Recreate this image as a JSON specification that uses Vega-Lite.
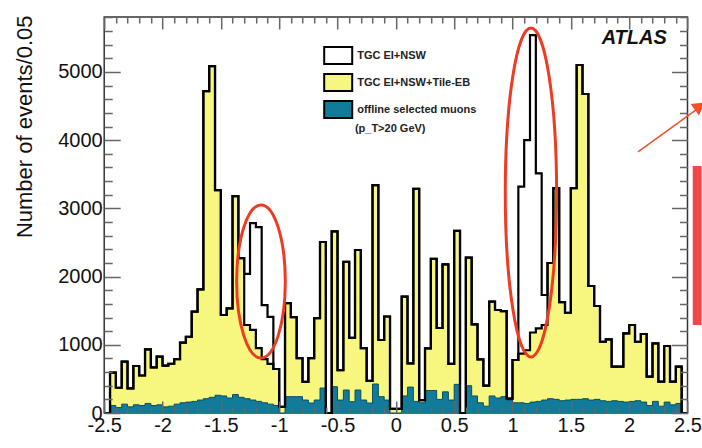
{
  "$schema": "https://vega.github.io/schema/vega-lite/v6.json",
  "width": 583.3,
  "height": 396,
  "autosize": {"type": "none"},
  "padding": {"left": 104.2, "top": 17, "right": 14.5, "bottom": 35},
  "background": "white",
  "config": {
    "view": {"stroke": "#333333", "strokeWidth": 1.5},
    "font": "Liberation Sans"
  },
  "datasets": {
    "hist": [
      {"x": -2.5, "a": 0, "b": 0, "c": 0},
      {"x": -2.45, "a": 591, "b": 591, "c": 110},
      {"x": -2.4, "a": 370, "b": 370, "c": 80},
      {"x": -2.35, "a": 752, "b": 752, "c": 130},
      {"x": -2.3, "a": 362, "b": 362, "c": 90},
      {"x": -2.25, "a": 689, "b": 689, "c": 120},
      {"x": -2.2, "a": 550, "b": 550, "c": 110},
      {"x": -2.15, "a": 933, "b": 933, "c": 140},
      {"x": -2.1, "a": 669, "b": 669, "c": 110},
      {"x": -2.05, "a": 826, "b": 826, "c": 120},
      {"x": -2.0, "a": 694, "b": 694, "c": 90},
      {"x": -1.95, "a": 722, "b": 722, "c": 100},
      {"x": -1.9, "a": 790, "b": 790, "c": 130},
      {"x": -1.85, "a": 1031, "b": 1031, "c": 150},
      {"x": -1.8, "a": 1115, "b": 1115, "c": 160},
      {"x": -1.75, "a": 1485, "b": 1485, "c": 170},
      {"x": -1.7, "a": 1813, "b": 1813, "c": 190},
      {"x": -1.65, "a": 4720, "b": 4720, "c": 210},
      {"x": -1.6, "a": 5087, "b": 5087, "c": 230},
      {"x": -1.55, "a": 3269, "b": 3269, "c": 260},
      {"x": -1.5, "a": 1437, "b": 1437, "c": 250},
      {"x": -1.45, "a": 1534, "b": 1534, "c": 220},
      {"x": -1.4, "a": 3181, "b": 3181, "c": 270},
      {"x": -1.35, "a": 2272, "b": 2272, "c": 230},
      {"x": -1.3, "a": 2040, "b": 1290, "c": 210},
      {"x": -1.25, "a": 2785, "b": 1220, "c": 190},
      {"x": -1.2, "a": 2725, "b": 950, "c": 170},
      {"x": -1.15, "a": 1583, "b": 790, "c": 150},
      {"x": -1.1, "a": 1410, "b": 720, "c": 130},
      {"x": -1.05, "a": 645, "b": 645, "c": 110},
      {"x": -1.0, "a": 90, "b": 90, "c": 0},
      {"x": -0.95, "a": 1612, "b": 1612, "c": 240},
      {"x": -0.9, "a": 1407, "b": 1407, "c": 240},
      {"x": -0.85, "a": 806, "b": 806, "c": 240},
      {"x": -0.8, "a": 455, "b": 455, "c": 190},
      {"x": -0.75, "a": 806, "b": 806, "c": 146},
      {"x": -0.7, "a": 1392, "b": 1392, "c": 190},
      {"x": -0.65, "a": 2507, "b": 2507, "c": 366},
      {"x": -0.6, "a": 0, "b": 0, "c": 0},
      {"x": -0.55, "a": 2663, "b": 2663, "c": 386},
      {"x": -0.5, "a": 630, "b": 630, "c": 190},
      {"x": -0.45, "a": 2216, "b": 2216, "c": 337},
      {"x": -0.4, "a": 1100, "b": 1100, "c": 166},
      {"x": -0.35, "a": 2390, "b": 2390, "c": 337},
      {"x": -0.3, "a": 950, "b": 950, "c": 190},
      {"x": -0.25, "a": 470, "b": 470, "c": 146},
      {"x": -0.2, "a": 3342, "b": 3342, "c": 425},
      {"x": -0.15, "a": 1070, "b": 1070, "c": 240},
      {"x": -0.1, "a": 1415, "b": 1415, "c": 190},
      {"x": -0.05, "a": 60, "b": 60, "c": 0},
      {"x": 0.0, "a": 60, "b": 60, "c": 0},
      {"x": 0.05, "a": 1705, "b": 1705, "c": 250},
      {"x": 0.1, "a": 728, "b": 728, "c": 380},
      {"x": 0.15, "a": 3287, "b": 3287, "c": 170},
      {"x": 0.2, "a": 190, "b": 190, "c": 150},
      {"x": 0.25, "a": 948, "b": 948, "c": 330},
      {"x": 0.3, "a": 2260, "b": 2260, "c": 330},
      {"x": 0.35, "a": 1246, "b": 1246, "c": 200},
      {"x": 0.4, "a": 2180, "b": 2180, "c": 310},
      {"x": 0.45, "a": 720, "b": 720, "c": 190},
      {"x": 0.5, "a": 2670, "b": 2670, "c": 420},
      {"x": 0.55, "a": 0, "b": 0, "c": 0},
      {"x": 0.6, "a": 2278, "b": 2278, "c": 400},
      {"x": 0.65, "a": 1298, "b": 1298, "c": 250},
      {"x": 0.7, "a": 785, "b": 785, "c": 150},
      {"x": 0.75, "a": 400, "b": 400, "c": 100},
      {"x": 0.8, "a": 1632, "b": 1632, "c": 250},
      {"x": 0.85, "a": 1510, "b": 1510, "c": 220},
      {"x": 0.9, "a": 1495, "b": 1495, "c": 240},
      {"x": 0.95, "a": 210, "b": 210, "c": 190},
      {"x": 1.0, "a": 777, "b": 777, "c": 150},
      {"x": 1.05, "a": 3318, "b": 870, "c": 150},
      {"x": 1.1, "a": 4002, "b": 920, "c": 140},
      {"x": 1.15, "a": 5541, "b": 1180, "c": 160},
      {"x": 1.2, "a": 3514, "b": 1240, "c": 170},
      {"x": 1.25, "a": 1730, "b": 1290, "c": 190},
      {"x": 1.3, "a": 2199, "b": 2199, "c": 210},
      {"x": 1.35, "a": 3298, "b": 3298, "c": 200},
      {"x": 1.4, "a": 1627, "b": 1627, "c": 180},
      {"x": 1.45, "a": 1470, "b": 1470, "c": 190},
      {"x": 1.5, "a": 3298, "b": 3298, "c": 200},
      {"x": 1.55, "a": 5102, "b": 5102, "c": 200},
      {"x": 1.6, "a": 4677, "b": 4677, "c": 210},
      {"x": 1.65, "a": 1862, "b": 1862, "c": 190},
      {"x": 1.7, "a": 1569, "b": 1569, "c": 200},
      {"x": 1.75, "a": 1045, "b": 1045, "c": 180},
      {"x": 1.8, "a": 1080, "b": 1080, "c": 170},
      {"x": 1.85, "a": 679, "b": 679, "c": 180},
      {"x": 1.9, "a": 679, "b": 679, "c": 170},
      {"x": 1.95, "a": 1168, "b": 1168, "c": 160},
      {"x": 2.0, "a": 1290, "b": 1290, "c": 170},
      {"x": 2.05, "a": 1045, "b": 1045, "c": 180},
      {"x": 2.1, "a": 1158, "b": 1158, "c": 160},
      {"x": 2.15, "a": 532, "b": 532, "c": 110},
      {"x": 2.2, "a": 1022, "b": 1022, "c": 170},
      {"x": 2.25, "a": 459, "b": 459, "c": 100},
      {"x": 2.3, "a": 982, "b": 982, "c": 160},
      {"x": 2.35, "a": 459, "b": 459, "c": 120},
      {"x": 2.4, "a": 679, "b": 679, "c": 140},
      {"x": 2.45, "a": 0, "b": 0, "c": 0},
      {"x": 2.5, "a": 0, "b": 0, "c": 0}
    ]
  },
  "resolve": {"axis": {"x": "independent", "y": "independent"}},
  "layer": [
    {
      "data": {"name": "hist"},
      "mark": {"type": "area", "interpolate": "step-after", "opacity": 1},
      "encoding": {
        "x": {
          "field": "x", "type": "quantitative",
          "scale": {"domain": [-2.5, 2.5], "nice": false, "zero": false},
          "axis": {
            "orient": "bottom",
            "values": [-2.5,-2.4,-2.3,-2.2,-2.1,-2,-1.9,-1.8,-1.7,-1.6,-1.5,-1.4,-1.3,-1.2,-1.1,-1,-0.9,-0.8,-0.7,-0.6,-0.5,-0.4,-0.3,-0.2,-0.1,0,0.1,0.2,0.3,0.4,0.5,0.6,0.7,0.8,0.9,1,1.1,1.2,1.3,1.4,1.5,1.6,1.7,1.8,1.9,2,2.1,2.2,2.3,2.4,2.5],
            "domain": false, "grid": false,
            "tickColor": "#666666", "tickWidth": 1.5,
            "tickSize": {"condition": {"test": "abs(datum.value*2 - round(datum.value*2)) < 0.001", "value": -12}, "value": -6},
            "labelExpr": "abs(datum.value*2 - round(datum.value*2)) < 0.001 ? ((datum.value < -0.001 ? '-' : '') + format(abs(datum.value), '~g')) : ''",
            "labelFont": "Liberation Sans", "labelFontSize": 20, "labelColor": "#111111",
            "labelPadding": 14, "labelOverlap": false, "labelFlush": false, "labelBound": false,
            "title": null, "zindex": 2
          }
        },
        "y": {
          "field": "a", "type": "quantitative",
          "scale": {"domain": [0, 5806], "nice": false},
          "axis": {
            "orient": "left",
            "values": [0,200,400,600,800,1000,1200,1400,1600,1800,2000,2200,2400,2600,2800,3000,3200,3400,3600,3800,4000,4200,4400,4600,4800,5000,5200,5400,5600,5800],
            "domain": false, "grid": false,
            "tickColor": "#666666", "tickWidth": 1.5,
            "tickSize": {"condition": {"test": "datum.value % 1000 === 0", "value": -16}, "value": -8},
            "labelExpr": "datum.value % 1000 === 0 ? datum.value : ''",
            "labelFont": "Liberation Sans", "labelFontSize": 20, "labelColor": "#111111",
            "labelPadding": 18, "labelOverlap": false, "labelBound": false,
            "title": "Number of events/0.05",
            "titleFont": "Liberation Sans", "titleFontSize": 22, "titleFontWeight": "normal", "titleColor": "#111111",
            "titleAngle": -90, "titleAlign": "right", "titleBaseline": "alphabetic",
            "titleX": -73, "titleY": -2, "zindex": 2
          }
        },
        "fill": {
          "datum": "TGC EI+NSW", "type": "nominal",
          "scale": {"domain": ["TGC EI+NSW", "TGC EI+NSW+Tile-EB", "offline selected muons"], "range": ["#ffffff", "#f7f780", "#127b9a"]},
          "legend": {
            "orient": "none", "legendX": 220, "legendY": 24.5, "title": null, "padding": 0,
            "symbolType": "M-1.077,-0.646H1.077V0.646H-1.077Z", "symbolSize": 676,
            "symbolStrokeColor": "#000000", "symbolStrokeWidth": 2, "symbolOpacity": 1,
            "labelFont": "Liberation Sans Narrow, Liberation Sans", "labelFontSize": 11, "labelFontWeight": "bold",
            "labelColor": "#222222", "labelOffset": 5, "rowPadding": 0
          }
        }
      }
    },
    {
      "data": {"name": "hist"},
      "mark": {"type": "area", "interpolate": "step-after", "opacity": 1},
      "encoding": {
        "x": {
          "field": "x", "type": "quantitative",
          "axis": {
            "orient": "top",
            "values": [-2.5,-2.4,-2.3,-2.2,-2.1,-2,-1.9,-1.8,-1.7,-1.6,-1.5,-1.4,-1.3,-1.2,-1.1,-1,-0.9,-0.8,-0.7,-0.6,-0.5,-0.4,-0.3,-0.2,-0.1,0,0.1,0.2,0.3,0.4,0.5,0.6,0.7,0.8,0.9,1,1.1,1.2,1.3,1.4,1.5,1.6,1.7,1.8,1.9,2,2.1,2.2,2.3,2.4,2.5],
            "domain": false, "grid": false, "labels": false,
            "tickColor": "#666666", "tickWidth": 1.5,
            "tickSize": {"condition": {"test": "abs(datum.value*2 - round(datum.value*2)) < 0.001", "value": -12}, "value": -6},
            "title": null, "zindex": 2
          }
        },
        "y": {
          "field": "b", "type": "quantitative",
          "axis": {
            "orient": "right",
            "values": [0,200,400,600,800,1000,1200,1400,1600,1800,2000,2200,2400,2600,2800,3000,3200,3400,3600,3800,4000,4200,4400,4600,4800,5000,5200,5400,5600,5800],
            "domain": false, "grid": false, "labels": false,
            "tickColor": "#666666", "tickWidth": 1.5,
            "tickSize": {"condition": {"test": "datum.value % 1000 === 0", "value": -16}, "value": -8},
            "title": null, "zindex": 2
          }
        },
        "fill": {"datum": "TGC EI+NSW+Tile-EB", "type": "nominal"}
      }
    },
    {
      "data": {"name": "hist"},
      "mark": {"type": "area", "interpolate": "step-after", "opacity": 1},
      "encoding": {
        "x": {"field": "x", "type": "quantitative", "axis": null},
        "y": {"field": "c", "type": "quantitative", "axis": null},
        "fill": {"datum": "offline selected muons", "type": "nominal"}
      }
    },
    {
      "data": {"name": "hist"},
      "mark": {"type": "line", "interpolate": "step-after", "stroke": "#0b4f63", "strokeWidth": 1},
      "encoding": {
        "x": {"field": "x", "type": "quantitative", "axis": null},
        "y": {"field": "c", "type": "quantitative", "axis": null}
      }
    },
    {
      "data": {"name": "hist"},
      "mark": {"type": "line", "interpolate": "step-after", "stroke": "#000000", "strokeWidth": 2.2},
      "encoding": {
        "x": {"field": "x", "type": "quantitative", "axis": null},
        "y": {"field": "b", "type": "quantitative", "axis": null}
      }
    },
    {
      "data": {"name": "hist"},
      "mark": {"type": "line", "interpolate": "step-after", "stroke": "#000000", "strokeWidth": 2.2},
      "encoding": {
        "x": {"field": "x", "type": "quantitative", "axis": null},
        "y": {"field": "a", "type": "quantitative", "axis": null}
      }
    },
    {
      "data": {"values": [{"label": "ATLAS", "x": 2.323, "y": 5497}]},
      "mark": {"type": "text", "align": "right", "baseline": "middle", "font": "Liberation Sans", "fontSize": 20, "fontWeight": "bold", "fontStyle": "italic", "color": "#111111"},
      "encoding": {
        "x": {"field": "x", "type": "quantitative", "axis": null},
        "y": {"field": "y", "type": "quantitative", "axis": null},
        "text": {"field": "label"}
      }
    },
    {
      "data": {"values": [{"label": "(p_T>20 GeV)", "x": -0.351, "y": 4163}]},
      "mark": {"type": "text", "align": "left", "baseline": "middle", "font": "Liberation Sans Narrow, Liberation Sans", "fontSize": 11, "fontWeight": "bold", "color": "#222222"},
      "encoding": {
        "x": {"field": "x", "type": "quantitative", "axis": null},
        "y": {"field": "y", "type": "quantitative", "axis": null},
        "text": {"field": "label"}
      }
    },
    {
      "data": {"values": [{"x": -1.156, "y": 1928}]},
      "mark": {"type": "point", "filled": false, "clip": false, "shape": "M0,-1A0.318,1 0 1,1 0,1A0.318,1 0 1,1 0,-1Z", "size": 23409, "stroke": "#ee3b24", "strokeWidth": 3, "opacity": 1},
      "encoding": {
        "x": {"field": "x", "type": "quantitative", "axis": null},
        "y": {"field": "y", "type": "quantitative", "axis": null}
      }
    },
    {
      "data": {"values": [{"x": 1.158, "y": 3233}]},
      "mark": {"type": "point", "filled": false, "clip": false, "shape": "M0,-1A0.156,1 0 1,1 0,1A0.156,1 0 1,1 0,-1Z", "size": 108241, "stroke": "#ee3b24", "strokeWidth": 3, "opacity": 1},
      "encoding": {
        "x": {"field": "x", "type": "quantitative", "axis": null},
        "y": {"field": "y", "type": "quantitative", "axis": null}
      }
    },
    {
      "data": {"values": [{"x": 2.076, "y": 3827, "x2": 2.585, "y2": 4460}]},
      "mark": {"type": "rule", "clip": false, "stroke": "#f0502a", "strokeWidth": 1.5},
      "encoding": {
        "x": {"field": "x", "type": "quantitative", "axis": null},
        "y": {"field": "y", "type": "quantitative", "axis": null},
        "x2": {"field": "x2"},
        "y2": {"field": "y2"}
      }
    },
    {
      "data": {"values": [{"x": 2.605, "y": 4500}]},
      "mark": {"type": "point", "shape": "triangle-up", "filled": true, "clip": false, "size": 200, "angle": 54, "color": "#f0502a", "opacity": 1},
      "encoding": {
        "x": {"field": "x", "type": "quantitative", "axis": null},
        "y": {"field": "y", "type": "quantitative", "axis": null}
      }
    },
    {
      "data": {"values": [{"x": 2.545, "x2": 2.62, "y": 3621, "y2": 1290}]},
      "mark": {"type": "rect", "clip": false, "color": "#f04848", "opacity": 1},
      "encoding": {
        "x": {"field": "x", "type": "quantitative", "axis": null},
        "x2": {"field": "x2"},
        "y": {"field": "y", "type": "quantitative", "axis": null},
        "y2": {"field": "y2"}
      }
    }
  ]
}
